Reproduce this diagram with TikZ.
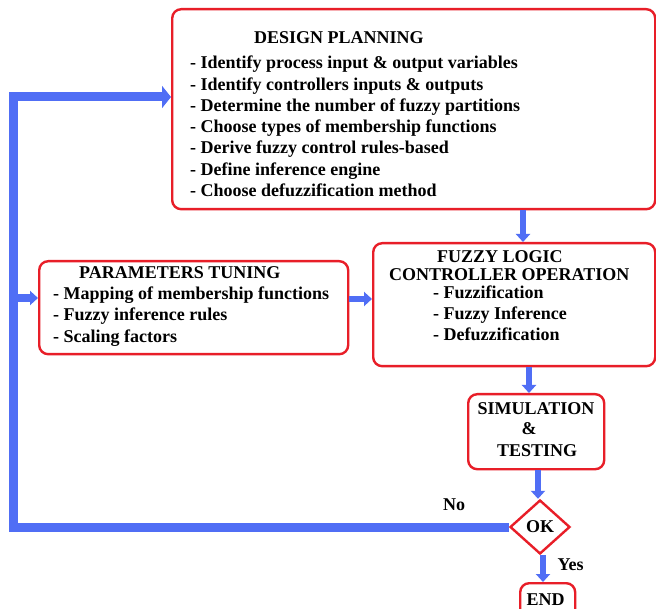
\documentclass[tikz,border=0pt]{standalone}
\usepackage{fontspec}
\setmainfont{Liberation Serif}
\usetikzlibrary{arrows.meta,shapes.geometric}
\definecolor{fblue}{RGB}{80,110,245}
\definecolor{fred}{RGB}{232,30,40}
\begin{document}
\begin{tikzpicture}[x=1pt,y=-1pt,
  box/.style={draw=fred,line width=2.4pt,rounded corners=9pt,inner sep=0pt,anchor=north west},
  txt/.style={font=\bfseries\fontsize{18}{21}\selectfont,inner sep=0pt,anchor=base west},
  flow/.style={draw=fblue,line width=6.5pt,-{Triangle[width=14pt,length=8pt]}},
  fb/.style={draw=fblue,line width=9pt,-{Triangle[width=22pt,length=9pt]}},
  fbb/.style={draw=fblue,line width=8pt,-{Triangle[width=14pt,length=8pt]}},
]
\useasboundingbox (0,0) rectangle (656,609);
\fill[white] (0,0) rectangle (656,609);
% boxes
\node[box,minimum width=483pt,minimum height=200pt] (design) at (171,8) {};
\node[box,minimum width=282pt,minimum height=123pt] (flc) at (372,242) {};
\node[box,minimum width=309pt,minimum height=93pt] (param) at (38,260) {};
\node[box,minimum width=136pt,minimum height=75pt] (sim) at (467,393) {};
\node[draw=fred,line width=2.4pt,diamond,inner sep=0pt,minimum width=60pt,minimum height=54pt,
      font=\bfseries\fontsize{18}{21}\selectfont] (ok) at (540,527) {OK};
\node[box,minimum width=55pt,minimum height=45pt] (end) at (519,582) {};
% design texts
\node[txt] (d0) at (254,44) {DESIGN PLANNING};
\node[txt] (d1) at (190,69) {- Identify process input \& output variables};
\node[txt] (d2) at (190,91) {- Identify controllers inputs \& outputs};
\node[txt] (d3) at (190,112) {- Determine the number of fuzzy partitions};
\node[txt] (d4) at (190,133) {- Choose types of membership functions};
\node[txt] (d5) at (190,154) {- Derive fuzzy control rules-based};
\node[txt] (d6) at (190,176) {- Define inference engine};
\node[txt] (d7) at (190,197) {- Choose defuzzification method};
% param texts
\node[txt] (p0) at (79,279) {PARAMETERS TUNING};
\node[txt] (p1) at (53,300) {- Mapping of membership functions};
\node[txt] (p2) at (53,321) {- Fuzzy inference rules};
\node[txt] (p3) at (53,342.5) {- Scaling factors};
% flc texts
\node[txt] (f0) at (437,263) {FUZZY LOGIC};
\node[txt] (f1) at (389,281) {CONTROLLER OPERATION};
\node[txt] (f2) at (433,299) {- Fuzzification};
\node[txt] (f3) at (433,320) {- Fuzzy Inference};
\node[txt] (f4) at (433,341) {- Defuzzification};
% sim texts
\node[txt] (s0) at (477.5,414) {SIMULATION};
\node[txt] (s1) at (521.5,435) {\&};
\node[txt] (s2) at (497,456.5) {TESTING};
% labels
\node[txt] (no) at (443,510) {No};
\node[txt] (yes) at (557.5,570) {Yes};
\node[txt] (endt) at (526.5,605) {END};
% helper coordinates
\coordinate (dx) at (523,0);
\coordinate (fx) at (529,0);
\coordinate (sx) at (538,0);
\coordinate (ex) at (543,0);
\coordinate (pm) at (0,299);
\coordinate (lb) at (13.5,528);
\coordinate (lt) at (13.5,97);
\coordinate (lm) at (13.5,298);
% connectors
\draw[flow] (design.south -| dx) -- (flc.north -| dx);
\draw[flow] (param.east |- pm) -- (flc.west |- pm);
\draw[flow] (flc.south -| fx) -- (sim.north -| fx);
\draw[flow] (sim.south -| sx) -- (ok.north -| sx);
\draw[flow] (ok.south -| ex) -- (end.north -| ex);
\draw[fb] (ok.west) -- (ok.west -| lb) |- (design.west |- lt);
\draw[fbb] (lm) -- (param.west |- lm);
\end{tikzpicture}
\end{document}
